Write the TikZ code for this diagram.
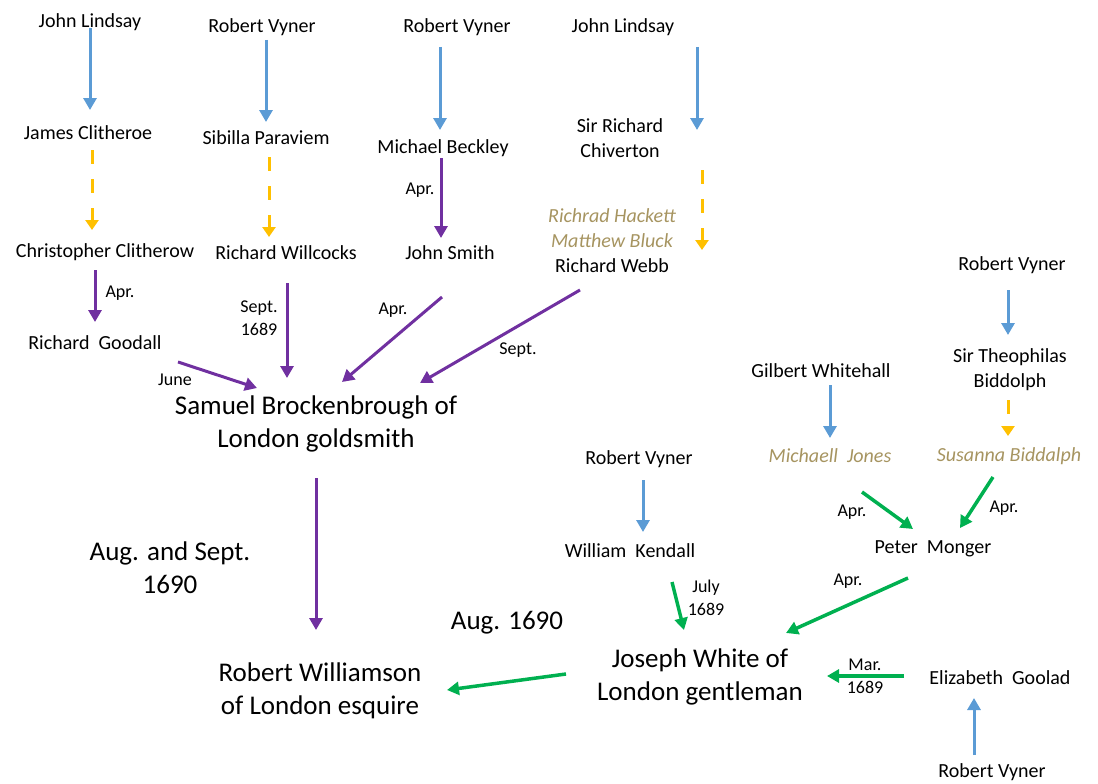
\documentclass[tikz,border=0pt]{standalone}
\usepackage{fontspec}
\setmainfont{Carlito}
\usetikzlibrary{arrows.meta,positioning}
\definecolor{linkblue}{RGB}{91,155,213}
\definecolor{linkgold}{RGB}{255,192,0}
\definecolor{linkpurple}{RGB}{112,48,160}
\definecolor{linkgreen}{RGB}{0,176,80}
\definecolor{olivename}{RGB}{166,148,96}
\tikzset{%
  person/.style={inner sep=0pt,align=center,font=\fontsize{20}{25}\selectfont},
  owner/.style={inner sep=0pt,align=center,font=\fontsize{27}{33}\selectfont},
  absent/.style={inner sep=0pt,align=center,text=olivename,font=\fontsize{20}{25}\selectfont\itshape},
  month/.style={inner sep=0pt,align=center,font=\fontsize{18}{23}\selectfont},
  grant/.style={draw=linkblue,line width=3pt,-{Triangle[length=12pt,width=13pt]}},
  lease/.style={draw=linkgold,line width=3pt,dash pattern=on 14pt off 15pt,-{Triangle[length=10pt,width=13pt]}},
  sold/.style={draw=linkpurple,line width=3pt,-{Triangle[length=12pt,width=13pt]}},
  conv/.style={draw=linkgreen,line width=3.5pt,-{Triangle[length=12pt,width=13pt]}}%
}

\begin{document}
\begin{tikzpicture}[x=1pt,y=-1pt]
      \useasboundingbox (0,0) rectangle (1098,784);

      % top row
      \node (lindsay_a) [person] at (90,22) {John Lindsay};
      \node (vyner_a) [person] at (262,27) {Robert Vyner};
      \node (vyner_b) [person] at (457,27) {Robert Vyner};
      \node (lindsay_b) [person] at (623,27) {John Lindsay};
      \node (clitheroe) [person] at (88,133) {James Clitheroe};
      \node (paraviem) [person] at (266,138) {Sibilla Paraviem};
      \node (beckley) [person] at (443,148) {Michael Beckley};
      \node (chiverton) [person] at (620,138) {Sir Richard\\Chiverton};
      \node (clitherow) [person] at (105,252) {Christopher Clitherow};
      \node (willcocks) [person] at (286,253) {Richard Willcocks};
      \node (smith) [person] at (450,253) {John Smith};
      \node (webb) [person] at (612,241) {{\color{olivename}\itshape Richrad Hackett}\\{\color{olivename}\itshape Matthew Bluck}\\Richard Webb};
      \node (goodall) [person] at (95,343) {Richard~ Goodall};
      \node (brockenbrough) [owner] at (316,424) {Samuel Brockenbrough of\\London goldsmith};
      \node (williamson) [owner] at (320,691) {Robert Williamson\\of London esquire};

      % right side
      \node (vyner_c) [person] at (1012,265) {Robert Vyner};
      \node (biddolph) [person] at (1010,370) {Sir Theophilas\\Biddolph};
      \node (whitehall) [person] at (821,371) {Gilbert Whitehall};
      \node (jones) [absent] at (830,456) {Michaell~ Jones};
      \node (biddalph) [absent] at (1009,456) {Susanna Biddalph};
      \node (vyner_d) [person] at (639,459) {Robert Vyner};
      \node (kendall) [person] at (630,551) {William~ Kendall};
      \node (monger) [person] at (933,549) {Peter~ Monger};
      \node (white) [owner] at (700,677) {Joseph White of\\London gentleman};
      \node (goolad) [person] at (1000,678) {Elizabeth~ Goolad};
      \node (vyner_e) [person] at (992,772) {Robert Vyner};

      % dates
      \node (d_cg) [month] at (120,293) {Apr.};
      \node (d_bs) [month] at (420,190) {Apr.};
      \node (d_wb) [month] at (259,318) {Sept.\\1689};
      \node (d_sb) [month] at (393,310) {Apr.};
      \node (d_rb) [month] at (518,350) {Sept.};
      \node (d_gb) [month] at (175,380) {June};
      \node (d_bw) [owner] at (170,568) {Aug. and Sept.\\1690};
      \node (d_ww) [owner] at (507,623) {Aug. 1690};
      \node (d_kw) [month] at (706,598) {July\\1689};
      \node (d_jm) [month] at (852,512) {Apr.};
      \node (d_bm) [month] at (1004,508) {Apr.};
      \node (d_mw) [month] at (848,581) {Apr.};
      \node (d_gw) [month] at (865,676) {Mar.\\1689};

      \draw[grant] ([shift={(0,6)}]lindsay_a.center) -- ([shift={(2,-23)}]clitheroe.center);
      \draw[grant] ([shift={(4,13)}]vyner_a.center) -- ([shift={(0,-16)}]paraviem.center);
      \draw[grant] ([shift={(-17,20)}]vyner_b.center) -- ([shift={(-3,-18)}]beckley.center);
      \draw[grant] ([shift={(74,20)}]lindsay_b.center) -- ([shift={(77,-8)}]chiverton.center);
      \draw[grant] ([shift={(-4,25)}]vyner_c.center) -- ([shift={(-2,-35)}]biddolph.center);
      \draw[grant] ([shift={(9,14)}]whitehall.center) -- ([shift={(0,-18)}]jones.center);
      \draw[grant] ([shift={(4,21)}]vyner_d.center) -- ([shift={(13,-19)}]kendall.center);
      \draw[grant] ([shift={(-18,-17)}]vyner_e.center) -- ([shift={(-26,20)}]goolad.center);

      \draw[lease] ([shift={(4,17)}]clitheroe.center) -- ([shift={(-13,-22)}]clitherow.center);
      \draw[lease] ([shift={(3,19)}]paraviem.center) -- ([shift={(-17,-16)}]willcocks.center);
      \draw[lease] ([shift={(82,32)}]chiverton.center) -- ([shift={(90,9)}]webb.center);
      \draw[lease] ([shift={(-2,30)}]biddolph.center) -- ([shift={(-1,-20)}]biddalph.center);

      \draw[sold] ([shift={(-10,18)}]clitherow.center) -- ([shift={(0,-21)}]goodall.center);
      \draw[sold] ([shift={(-2,10)}]beckley.center) -- ([shift={(-9,-15)}]smith.center);
      \draw[sold] ([shift={(1,30)}]willcocks.center) -- ([shift={(-29,-46)}]brockenbrough.center);
      \draw[sold] ([shift={(-8,44)}]smith.center) -- ([shift={(26,-42)}]brockenbrough.center);
      \draw[sold] ([shift={(-32,49)}]webb.center) -- ([shift={(104,-41)}]brockenbrough.center);
      \draw[sold] ([shift={(83,19)}]goodall.center) -- ([shift={(-59,-36)}]brockenbrough.center);
      \draw[sold] ([shift={(0,54)}]brockenbrough.center) -- ([shift={(-4,-61)}]williamson.center);

      \draw[conv] ([shift={(42,31)}]kendall.center) -- ([shift={(-16,-47)}]white.center);
      \draw[conv] ([shift={(32,36)}]jones.center) -- ([shift={(-20,-20)}]monger.center);
      \draw[conv] ([shift={(-16,21)}]biddalph.center) -- ([shift={(27,-21)}]monger.center);
      \draw[conv] ([shift={(-25,29)}]monger.center) -- ([shift={(86,-44)}]white.center);
      \draw[conv] ([shift={(-96,-2)}]goolad.center) -- ([shift={(127,-1)}]white.center);
      \draw[conv] ([shift={(-134,-3)}]white.center) -- ([shift={(127,-1)}]williamson.center);

    \end{tikzpicture}
\end{document}
